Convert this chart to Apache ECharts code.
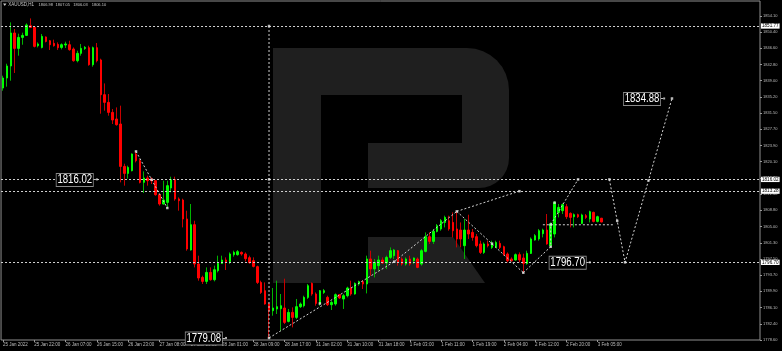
<!DOCTYPE html>
<html><head><meta charset="utf-8">
<script src="https://cdn.jsdelivr.net/npm/echarts@6.0.0/dist/echarts.min.js"></script>
<style>html,body{margin:0;padding:0;background:#000;}#c{width:782px;height:351px;}</style>
</head><body><div id="c"></div>
<script>
// ---- data ----
const tickLabels = ['25 Jan 2022','25 Jan 22:00','26 Jan 07:00','26 Jan 15:00','26 Jan 23:00','27 Jan 08:00','27 Jan 16:00','28 Jan 01:00','28 Jan 09:00','28 Jan 17:00','31 Jan 02:00','31 Jan 10:00','31 Jan 18:00','1 Feb 03:00','1 Feb 11:00','1 Feb 19:00','2 Feb 04:00','2 Feb 12:00','2 Feb 20:00','3 Feb 05:00'];
const yTickLabels = ['1778.60','1782.40','1786.10','1789.90','1793.70','1797.50','1801.30','1805.00','1808.80','1812.60','1816.30','1820.10','1823.90','1827.70','1831.50','1835.20','1839.00','1842.80','1846.60','1850.40','1854.10'];

const opens = [1837.32,1839.65,1842.45,1850.14,1846.55,1849.11,1849.58,1851.84,1851.44,1847.18,
1846.78,1849.21,1848.34,1847.72,1847.48,1846.78,1847.34,1847.41,1846.41,1843.68,
1845.39,1846.55,1846.71,1842.75,1846.71,1843.85,1835.76,1833.97,1831.64,1830.10,
1828.93,1819.05,1817.42,1818.05,1821.94,1820.38,1815.33,1816.35,1816.12,1815.72,
1812.46,1810.29,1810.67,1814.02,1815.95,1811.46,1811.22,1806.80,1799.57,1805.47,
1796.31,1793.19,1792.26,1794.35,1792.65,1794.75,1796.45,1797.24,1796.85,1798.48,
1798.48,1799.01,1798.64,1797.78,1797.08,1795.68,1792.02,1790.09,1786.99,1785.43,
1785.83,1785.90,1786.06,1782.94,1785.03,1783.87,1786.36,1786.59,1788.53,1791.79,
1789.32,1787.13,1789.69,1788.53,1786.83,1786.99,1789.16,1788.16,1788.92,1790.72,
1789.32,1791.65,1792.19,1791.65,1797.48,1795.15,1795.92,1797.24,1796.54,1797.85,
1798.25,1799.41,1797.48,1796.31,1797.48,1797.08,1797.48,1796.31,1799.25,1802.67,
1801.58,1803.91,1804.47,1806.00,1806.40,1806.00,1804.47,1804.23,1800.58,1804.23,
1803.67,1802.67,1800.97,1799.01,1800.97,1800.18,1800.18,1801.11,1800.34,1798.64,
1797.48,1797.24,1798.48,1797.71,1796.45,1798.78,1801.90,1802.14,1803.37,1804.23,
1800.58,1803.30,1808.34,1808.73,1809.66,1808.10,1807.33,1807.80,1805.77,1807.57,
1806.80,1808.34,1806.24,1806.98];
const closes = [1839.65,1842.45,1850.14,1846.55,1849.11,1849.58,1852.00,1851.44,1847.02,1847.58,
1849.35,1848.18,1847.41,1847.18,1846.71,1847.41,1847.58,1846.25,1843.68,1845.39,
1846.55,1846.78,1842.75,1846.71,1843.68,1835.76,1833.97,1831.64,1829.87,1828.77,
1819.05,1817.42,1818.82,1821.94,1820.38,1815.33,1816.35,1815.72,1815.72,1812.46,
1810.29,1811.22,1814.56,1815.95,1811.46,1811.06,1806.80,1799.81,1805.47,1796.31,
1793.05,1792.26,1794.35,1792.65,1794.98,1796.45,1797.24,1796.85,1798.64,1799.01,
1799.18,1798.64,1797.55,1796.61,1795.75,1792.02,1789.69,1786.99,1785.43,1786.06,
1786.36,1786.59,1782.70,1785.03,1783.87,1786.36,1786.99,1788.53,1791.25,1789.32,
1787.13,1790.09,1790.09,1786.83,1787.36,1789.16,1788.39,1788.92,1790.72,1789.32,
1791.79,1792.19,1791.65,1797.48,1795.15,1796.68,1797.24,1796.54,1797.85,1799.41,
1799.57,1796.68,1796.31,1797.48,1796.31,1797.71,1795.52,1799.41,1802.67,1801.58,
1803.91,1805.24,1806.40,1807.17,1804.47,1804.07,1802.14,1802.14,1804.23,1803.30,
1802.51,1800.58,1799.01,1800.97,1800.58,1801.11,1801.34,1800.18,1798.48,1797.08,
1797.08,1798.48,1797.24,1796.45,1798.78,1802.14,1802.91,1804.07,1804.23,1800.97,
1805.63,1810.67,1809.50,1810.13,1807.33,1807.17,1807.80,1807.33,1807.73,1807.17,
1808.50,1806.24,1807.33,1806.10];
const lows = [1836.69,1837.63,1839.02,1840.82,1844.85,1847.41,1849.44,1851.30,1846.78,1846.78,
1846.55,1847.95,1846.18,1846.95,1846.18,1846.32,1846.64,1846.01,1843.45,1843.29,
1844.85,1846.18,1842.52,1842.29,1843.29,1831.33,1832.03,1830.87,1828.93,1828.54,
1815.33,1814.56,1816.19,1817.89,1819.99,1815.09,1812.86,1814.56,1814.95,1812.23,
1809.90,1810.13,1809.36,1813.00,1811.06,1808.73,1804.84,1799.41,1799.41,1795.52,
1792.42,1791.65,1791.65,1792.42,1792.26,1794.35,1796.31,1794.91,1796.31,1798.01,
1798.25,1798.25,1796.92,1796.38,1795.52,1791.65,1789.32,1786.83,1779.08,1784.26,
1784.66,1780.77,1782.33,1782.70,1781.54,1783.50,1786.06,1786.20,1788.16,1788.92,
1786.59,1786.59,1789.32,1786.52,1785.59,1786.59,1788.16,1785.83,1788.53,1788.92,
1789.16,1791.25,1790.49,1789.46,1793.58,1793.19,1794.75,1796.31,1795.15,1797.48,
1797.48,1795.92,1795.92,1795.92,1795.92,1796.31,1795.33,1795.92,1799.01,1800.97,
1800.97,1803.67,1804.07,1804.84,1804.07,1802.51,1800.18,1800.18,1797.48,1802.14,
1801.74,1800.18,1798.64,1798.64,1800.18,1799.81,1800.11,1799.81,1798.25,1796.68,
1796.85,1797.08,1796.68,1794.28,1796.15,1798.64,1801.74,1801.74,1802.51,1800.81,
1800.34,1802.51,1807.17,1807.96,1806.80,1804.84,1804.84,1807.03,1805.63,1806.80,
1806.00,1806.00,1806.00,1806.03];
const highs = [1840.19,1842.98,1852.61,1851.07,1849.98,1850.21,1852.38,1853.54,1851.61,1847.95,
1849.91,1849.35,1848.51,1848.58,1847.95,1847.72,1848.11,1848.34,1846.78,1846.01,
1847.58,1847.11,1847.18,1846.98,1847.81,1844.15,1838.39,1835.92,1832.43,1832.80,
1833.20,1819.68,1819.22,1822.08,1822.55,1820.78,1817.89,1816.89,1816.49,1815.89,
1812.62,1815.72,1815.72,1816.65,1816.65,1811.83,1811.53,1808.73,1810.29,1806.40,
1798.25,1793.58,1795.52,1795.52,1795.92,1798.25,1798.25,1797.85,1799.01,1799.41,
1799.57,1799.25,1799.01,1798.25,1797.85,1795.92,1792.42,1792.02,1787.36,1790.72,
1792.42,1789.32,1792.89,1785.83,1786.20,1788.16,1787.36,1788.92,1791.65,1792.02,
1789.69,1790.25,1790.49,1788.92,1787.76,1789.46,1789.32,1789.32,1791.02,1792.42,
1792.02,1792.42,1792.58,1798.25,1799.41,1797.48,1798.25,1797.85,1798.25,1800.18,
1799.81,1799.57,1797.85,1797.85,1798.25,1797.85,1797.85,1799.81,1803.67,1803.67,
1804.47,1805.63,1806.80,1807.57,1807.57,1808.34,1808.57,1806.00,1806.80,1807.80,
1804.47,1803.30,1801.74,1801.34,1801.74,1801.74,1801.74,1801.74,1800.58,1799.01,
1797.85,1798.78,1799.01,1798.71,1799.41,1802.51,1803.30,1804.47,1804.54,1807.96,
1806.00,1810.90,1810.29,1810.43,1810.29,1808.34,1808.10,1808.03,1808.03,1807.96,
1808.73,1808.50,1807.57,1807.05];

// drawn objects (bar index, price)
const levelLines = [1851.77, 1816.02, 1813.28, 1796.70];
const bidPrice = 1806.10;
const zigA = [[34,1822.55],[42,1809.36]];
const zigB = [[68,1779.08],[100,1796.85],[116,1808.57]];
const zigC = [[116,1808.57],[132,1813.28]];
const zigD = [[116,1808.57],[133,1794.28]];
const zigE = [[133,1794.28],[140,1800.34],[140,1805.50],[147,1816.02]];
const forecast = [[155,1816.02],[159,1796.70],[171,1834.88]];
const shortLevel = [[138,1805.45],[156,1805.45]];
const vLine = [[68,1851.77],[68,1779.08]];
const markers = [[34,1822.55],[38,1815.96],[42,1809.36],[68,1779.08],[81,1787.10],[100,1796.85],[116,1808.57],[132,1813.28],[125,1801.06],[133,1794.28],[140,1800.34],[140,1805.50],[141,1810.60],[147,1816.02],[155,1816.02],[157,1806.36],[159,1796.70],[165,1815.79],[171,1834.88],[68,1851.77],[68,1816.02]];
const priceTags = [[24,1816.02],[57,1779.08],[150,1796.70],[169,1834.88]];
const header = ['XAUUSD,H1','1806.98','1807.05','1806.03','1806.10'];

// ---- chart ----
const N_SLOTS = 194, TICK_EVERY = 8;
const Y_MIN = 1778.6, Y_STEP = 1778.6 / 471, Y_MAX = 1857.594;
const FONT = "'Liberation Sans', Arial, sans-serif";
const LC = '#d2d2d2';
const WM = '#1f1f1f';

const cats = Array.from({length: N_SLOTS}, (_, i) => String(i));
const tickFn = (idx) => idx % TICK_EVERY === 0 && idx / TICK_EVERY < tickLabels.length;
const xFmt = (v) => { const i = Number(v); return (i % TICK_EVERY === 0 && tickLabels[i / TICK_EVERY]) ? tickLabels[i / TICK_EVERY] : ''; };
const yFmt = (v) => { const k = (v - Y_MIN) / Y_STEP; const r = Math.round(k); return (Math.abs(k - r) < 0.02 && r >= 0 && r < yTickLabels.length) ? yTickLabels[r] : ''; };

const wickData = opens.map((o, i) => [o, closes[i], lows[i], highs[i]]);
const bodyData = opens.map((o, i) => [o, closes[i], Math.min(o, closes[i]), Math.max(o, closes[i])]);

function seg(data) {
  return {type: 'line', data: data, symbol: 'none', silent: true, z: 4,
    lineStyle: {color: LC, width: 1, type: [2, 2]}};
}

const graphicEls = [
  {type: 'rect', z: 0, silent: true, shape: {x: 273, y: 48, width: 236, height: 140, r: [0, 42, 30, 0]}, style: {fill: WM}},
  {type: 'rect', z: 1, silent: true, shape: {x: 321, y: 95, width: 141, height: 48}, style: {fill: '#000'}},
  {type: 'rect', z: 1, silent: true, shape: {x: 321, y: 143, width: 47, height: 45}, style: {fill: '#000'}},
  {type: 'rect', z: 0, silent: true, shape: {x: 273, y: 188, width: 48, height: 95}, style: {fill: WM}},
  {type: 'polygon', z: 0, silent: true, shape: {points: [[368, 237], [453, 237], [485, 283], [368, 283]]}, style: {fill: WM}},
  {type: 'polygon', z: 5, silent: true, shape: {points: [[3, 3.5], [6.5, 3.5], [4.75, 6]]}, style: {fill: '#c8c8c8'}},
  {type: 'text', z: 5, x: 8.3, y: 2.6, style: {text: header[0], fill: '#c8c8c8', font: '4.5px ' + FONT, verticalAlign: 'top'}},
  {type: 'text', z: 5, x: 38.6, y: 2.8, style: {text: header[1], fill: '#c8c8c8', font: '4px ' + FONT, verticalAlign: 'top'}},
  {type: 'text', z: 5, x: 55.6, y: 2.8, style: {text: header[2], fill: '#c8c8c8', font: '4px ' + FONT, verticalAlign: 'top'}},
  {type: 'text', z: 5, x: 73.3, y: 2.8, style: {text: header[3], fill: '#c8c8c8', font: '4px ' + FONT, verticalAlign: 'top'}},
  {type: 'text', z: 5, x: 91.7, y: 2.8, style: {text: header[4], fill: '#c8c8c8', font: '4px ' + FONT, verticalAlign: 'top'}}
];

const chart = echarts.init(document.getElementById('c'), null, {renderer: 'canvas'});
chart.setOption({
  backgroundColor: '#000',
  animation: false,
  grid: {left: 1, right: 22, top: 1, bottom: 11, show: true, borderColor: '#8f8f8f', borderWidth: 1},
  xAxis: {
    type: 'category', data: cats, boundaryGap: true,
    axisLine: {show: false},
    axisTick: {show: true, alignWithLabel: true, interval: tickFn, length: 2, lineStyle: {color: '#9a9a9a'}},
    axisLabel: {show: true, interval: tickFn, formatter: xFmt, align: 'left', fontSize: 4.5, color: '#bdbdbd', margin: 2.5, fontFamily: FONT},
    splitLine: {show: false}
  },
  yAxis: {
    type: 'value', position: 'right', min: Y_MIN, max: Y_MAX, interval: Y_STEP,
    splitLine: {show: false}, axisLine: {show: false},
    axisTick: {show: true, length: 2, lineStyle: {color: '#9a9a9a'}},
    axisLabel: {fontSize: 4, color: '#bdbdbd', margin: 3, formatter: yFmt, fontFamily: FONT, showMinLabel: true, showMaxLabel: false}
  },
  graphic: graphicEls,
  series: [
    {type: 'candlestick', name: 'wick', data: wickData, barWidth: 0.3, z: 2, silent: true,
      itemStyle: {color: '#00b400', color0: '#c80000', borderColor: '#00b400', borderColor0: '#c80000', borderWidth: 1}},
    {type: 'candlestick', name: 'body', data: bodyData, barWidth: 2, z: 3, silent: true,
      itemStyle: {color: '#00ff00', color0: '#ff0000', borderColor: '#00ff00', borderColor0: '#ff0000', borderWidth: 1},
      markLine: {
        symbol: ['none', 'none'], silent: true, animation: false,
        lineStyle: {color: LC, width: 1, type: [2, 2]},
        label: {show: true, position: 'end', distance: 1, formatter: (p) => Number(p.value).toFixed(2),
          backgroundColor: '#ffffff', color: '#000000', fontSize: 4.6, lineHeight: 5, padding: [0.3, 1, 0, 1], fontFamily: FONT},
        data: levelLines.map(v => ({yAxis: v})).concat([{yAxis: bidPrice, lineStyle: {opacity: 0}}])
      }},
    seg(zigA), seg(zigB), seg(zigC), seg(zigD), seg(zigE), seg(forecast), seg(shortLevel), seg(vLine),
    {type: 'scatter', data: markers, symbol: 'rect', symbolSize: 2.5, silent: true, z: 6, itemStyle: {color: '#e6e6e6'}},
    {type: 'scatter', data: priceTags, symbol: 'rect', symbolSize: 2, silent: true, z: 7, itemStyle: {color: '#dddddd'}}
  ]
});

// price tag boxes: anchored through the chart's own scales, text condensed horizontally
priceTags.forEach(function (t) {
  const pt = chart.convertToPixel({gridIndex: 0}, [t[0], t[1]]);
  graphicEls.push({type: 'line', z: 8, silent: true,
    shape: {x1: pt[0] - 4, y1: Math.round(pt[1]) + 0.5, x2: pt[0] - 1, y2: Math.round(pt[1]) + 0.5},
    style: {stroke: '#c0c0c0', lineWidth: 1}});
  graphicEls.push({type: 'text', z: 9, silent: true, x: pt[0] - 4, y: pt[1] + 0.5, scaleX: 0.8,
    style: {text: t[1].toFixed(2), font: '12px ' + FONT, fill: '#ffffff', align: 'right', verticalAlign: 'middle',
      backgroundColor: '#000000', borderColor: '#8a8a8a', borderWidth: 1, padding: [1, 1, 0, 1], lineHeight: 11}});
});
chart.setOption({graphic: graphicEls});
</script></body></html>
